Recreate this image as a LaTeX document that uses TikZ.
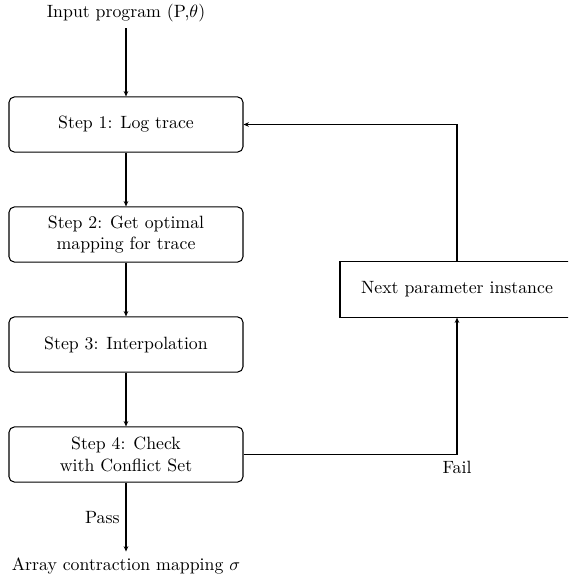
\documentclass[tikz,border=0pt]{standalone}
\usetikzlibrary{positioning,arrows.meta}

\begin{document}
\begin{tikzpicture}[x=0.5625pt,y=-0.5625pt,
    stepbox/.style={draw,semithick,rounded corners=3pt,align=center,
      minimum width=131.6pt,minimum height=31pt},
    nextbox/.style={draw,semithick,minimum width=131.6pt,minimum height=31pt},
    flow/.style={-{Stealth[length=3pt,width=2.6pt]},semithick}]
          \clip (0,0) rectangle (568,580);
          \node (input) at (126,13) {Input program (P,$\theta$)};
          \node[stepbox] (step1) at (126,124.5) {Step 1: Log trace};
          \node[stepbox] (step2) at (126,234.5) {Step 2: Get optimal\\mapping for trace};
          \node[stepbox] (step3) at (126,344.5) {Step 3: Interpolation};
          \node[stepbox] (step4) at (126,454.5) {Step 4: Check\\with Conflict Set};
          \node[nextbox] (next) at (457,289.5) {Next parameter instance};
          \node (output) at (126,566) {Array contraction mapping $\sigma$};
          % main flow
          \draw[flow] (input) -- (step1);
          \foreach \a/\b in {step1/step2,step2/step3,step3/step4}{
            \draw[flow] (\a) -- (\b);
          }
          \draw[flow] (step4) -- node[left] {Pass} (output);
          % loop back
          \draw[flow] (step4.east) -| node[pos=0.5,below] {Fail} (next.south);
          \draw[flow] (next.north) |- (step1.east);
        \end{tikzpicture}
\end{document}
